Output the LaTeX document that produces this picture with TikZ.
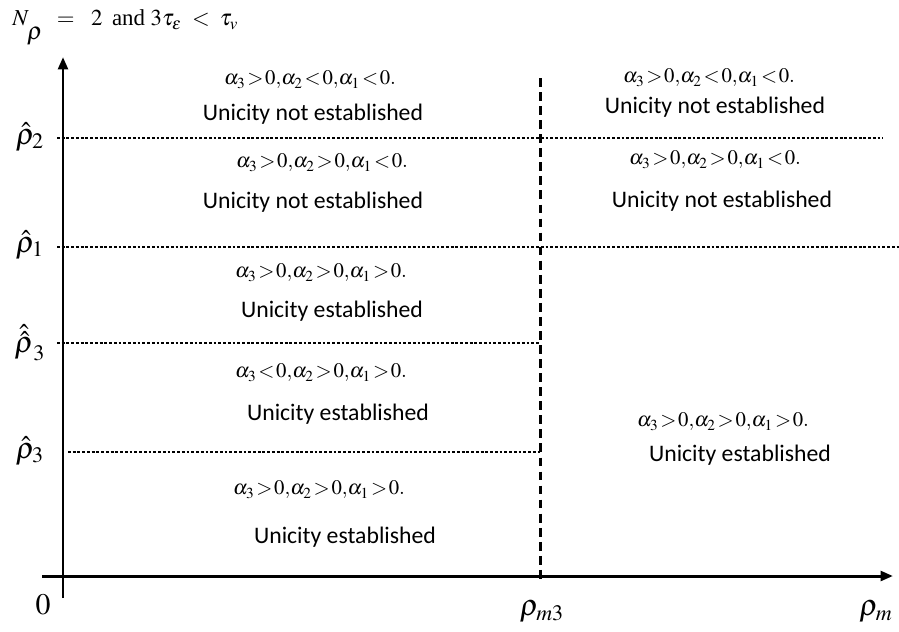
\documentclass[tikz,border=0pt]{standalone}
\usepackage{mathptmx}
\usepackage{fontspec}
\setmainfont{Liberation Serif}
\newfontfamily\calib{Carlito}
\usetikzlibrary{arrows.meta}
\newcommand\cnd[1]{$\thickmuskip=1.5mu #1$}

\begin{document}
\begin{tikzpicture}[x=0.02cm,y=-0.02cm,
  axis/.style={line width=1.7pt,-{Triangle[length=7pt,width=5.5pt]}},
  level/.style={line width=1.7pt,dash pattern=on 1.6pt off 1.1pt},
  split/.style={line width=1.7pt,dash pattern=on 5pt off 3pt},
  cond/.style={font=\fontsize{11.8}{14}\selectfont},
  verdict/.style={font=\calib\fontsize{13.5}{15}\selectfont},
  lbl/.style={font=\fontsize{17}{19}\selectfont}]
\useasboundingbox (0,0) rectangle (899,632);
% axes
\coordinate (xs) at (42,576);
\coordinate (xe) at (893,576);
\coordinate (ys) at (63,598);
\coordinate (ye) at (63,57);
\draw[axis] (xs) -- (xe);
\draw[axis] (ys) -- (ye);
\node[font=\fontsize{13}{15}\selectfont,anchor=base west,inner sep=0pt] (title) at (12,26) {$N\mkern18mu=\mkern9mu 2$\, and $\thickmuskip=8mu 3\tau_\varepsilon<\tau_v$};
\node[font=\fontsize{14}{16}\selectfont,anchor=base,inner sep=0pt] (rho) at (35,39) {$\rho$};
\node[lbl] (zero) at (43,605) {$0$};
\node[lbl] (rm3) at (542,612) {$\rho_{m3}$};
\node[lbl] (rm) at (876,612) {$\rho_m$};
% levels on the rho axis
\node[lbl] (r2) at (30,137) {$\hat\rho_2$};
\node[lbl] (r1) at (30,245) {$\hat\rho_1$};
\node[lbl] (r3b) at (30,343) {$\hat{\hat\rho}_3$};
\node[lbl] (r3) at (30,451) {$\hat\rho_3$};
\coordinate (l2a) at (57,138);  \coordinate (l2b) at (883,138);
\coordinate (l1a) at (57,247);  \coordinate (l1b) at (899,247);
\coordinate (l3a) at (57,343);  \coordinate (l3b) at (540,343);
\coordinate (l4a) at (68,452);  \coordinate (l4b) at (540,452);
\draw[level] (l2a) -- (l2b);
\draw[level] (l1a) -- (l1b);
\draw[level] (l3a) -- (l3b);
\draw[level] (l4a) -- (l4b);
\coordinate (sa) at (540,78);
\coordinate (sb) at (540,582);
\draw[split] (sa) -- (sb);
% regions
\node[cond] (c1) at (310,80) {\cnd{\alpha_3>0{,}\alpha_2<0{,}\alpha_1<0.}};
\node[verdict] (v1) at (313,114) {Unicity not established};
\node[cond] (c2) at (322,163) {\cnd{\alpha_3>0{,}\alpha_2>0{,}\alpha_1<0.}};
\node[verdict] (v2) at (313,202) {Unicity not established};
\node[cond] (c3) at (321,273) {\cnd{\alpha_3>0{,}\alpha_2>0{,}\alpha_1>0.}};
\node[verdict] (v3) at (332,311) {Unicity established};
\node[cond] (c4) at (321,373) {\cnd{\alpha_3<0{,}\alpha_2>0{,}\alpha_1>0.}};
\node[verdict] (v4) at (338,414) {Unicity established};
\node[cond] (c5) at (319,490) {\cnd{\alpha_3>0{,}\alpha_2>0{,}\alpha_1>0.}};
\node[verdict] (v5) at (345,537) {Unicity established};
\node[cond] (c6) at (709,78) {\cnd{\alpha_3>0{,}\alpha_2<0{,}\alpha_1<0.}};
\node[verdict] (v6) at (715,107) {Unicity not established};
\node[cond] (c7) at (715,160) {\cnd{\alpha_3>0{,}\alpha_2>0{,}\alpha_1<0.}};
\node[verdict] (v7) at (722,201) {Unicity not established};
\node[cond] (c8) at (723,422) {\cnd{\alpha_3>0{,}\alpha_2>0{,}\alpha_1>0.}};
\node[verdict] (v8) at (740,455) {Unicity established};
\end{tikzpicture}
\end{document}
